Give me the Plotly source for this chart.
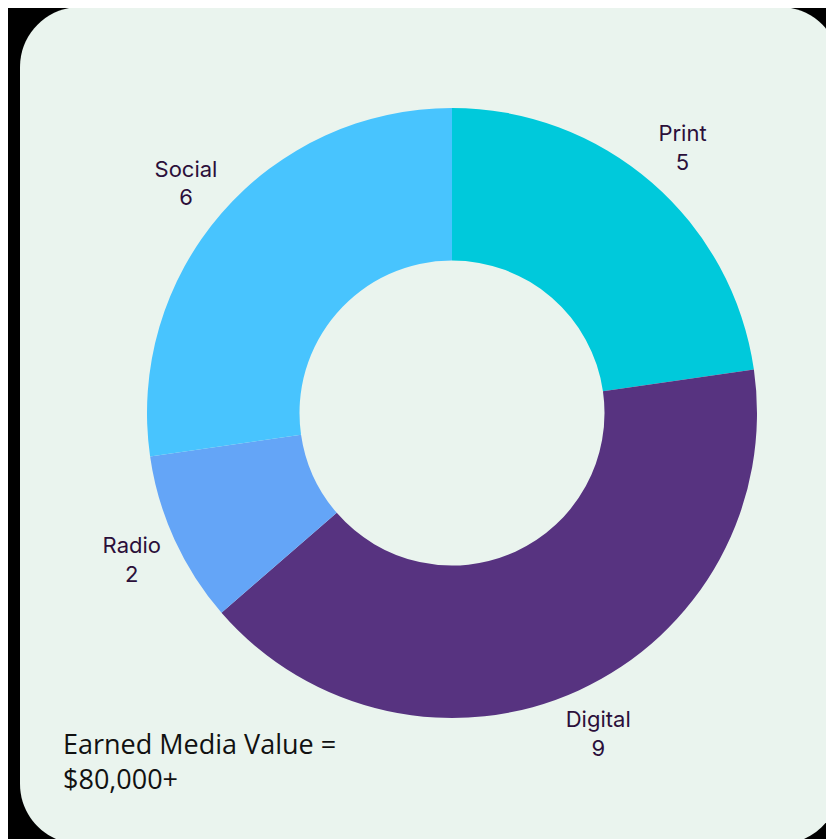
import plotly.graph_objects as go

categories = ["Print", "Digital", "Radio", "Social"]
values = [5, 9, 2, 6]
colors = ["#00C9DB", "#573380", "#64A5F7", "#48C4FE"]
footnote_lines = ["Earned Media Value =", "$80,000+"]

# page body has an 8px margin; work in page coordinates and shift
OFF = 8
W, H = 834 - OFF, 839 - OFF
CX, CY, R_OUT = 452, 413, 305
R_POLAR = 380
R_LABEL_FRAC = 352 / R_POLAR


def px(x):
    return (x - OFF) / W


def py(y):
    return 1 - (y - OFF) / H


def rounded_rect(x0, y0, x1, y1, r):
    k = 0.5523 * r
    pts = [
        f"M {px(x0 + r)},{py(y0)}",
        f"L {px(x1 - r)},{py(y0)}",
        f"C {px(x1 - r + k)},{py(y0)} {px(x1)},{py(y0 + r - k)} {px(x1)},{py(y0 + r)}",
        f"L {px(x1)},{py(y1 - r)}",
        f"C {px(x1)},{py(y1 - r + k)} {px(x1 - r + k)},{py(y1)} {px(x1 - r)},{py(y1)}",
        f"L {px(x0 + r)},{py(y1)}",
        f"C {px(x0 + r - k)},{py(y1)} {px(x0)},{py(y1 - r + k)} {px(x0)},{py(y1 - r)}",
        f"L {px(x0)},{py(y0 + r)}",
        f"C {px(x0)},{py(y0 + r - k)} {px(x0 + r - k)},{py(y0)} {px(x0 + r)},{py(y0)}",
        "Z",
    ]
    return " ".join(pts)


total = sum(values)
mid_angles = []
cum = 0
for v in values:
    mid_angles.append((cum + v / 2) / total * 360)
    cum += v

fig = go.Figure()

fig.add_trace(go.Pie(
    labels=categories,
    values=values,
    hole=0.5,
    sort=False,
    direction="clockwise",
    rotation=0,
    textinfo="none",
    hoverinfo="label+value",
    marker=dict(colors=colors, line=dict(width=0)),
    domain=dict(x=[px(CX - R_OUT), px(CX + R_OUT)], y=[py(CY + R_OUT), py(CY - R_OUT)]),
    showlegend=False,
))

# labels placed on a ring just outside the donut (polar domain shifted 3px down
# to compensate for text baseline offset)
LABEL_DY = 3
fig.add_trace(go.Scatterpolar(
    r=[R_LABEL_FRAC] * len(categories),
    theta=mid_angles,
    mode="text",
    text=[f"{c}<br>{v}" for c, v in zip(categories, values)],
    textposition="middle center",
    textfont=dict(family="Inter, Roboto, sans-serif", size=22, color="#2B0F3A"),
    hoverinfo="skip",
    showlegend=False,
    cliponaxis=False,
))

fig.update_layout(
    width=W,
    height=H,
    margin=dict(l=0, r=0, t=0, b=0),
    paper_bgcolor="#000000",
    plot_bgcolor="rgba(0,0,0,0)",
    polar=dict(
        domain=dict(x=[px(CX - R_POLAR), px(CX + R_POLAR)],
                    y=[py(CY + LABEL_DY + R_POLAR), py(CY + LABEL_DY - R_POLAR)]),
        bgcolor="rgba(0,0,0,0)",
        radialaxis=dict(visible=False, range=[0, 1]),
        angularaxis=dict(visible=False, rotation=90, direction="clockwise"),
    ),
    shapes=[dict(
        type="path",
        xref="paper",
        yref="paper",
        path=rounded_rect(20, 7, 840, 844, 60),
        fillcolor="#EAF4EE",
        line=dict(width=0),
        layer="below",
    )],
    annotations=[dict(
        x=px(61),
        y=py(761),
        xref="paper",
        yref="paper",
        xanchor="left",
        yanchor="middle",
        align="left",
        showarrow=False,
        text="<br>".join(footnote_lines),
        font=dict(family="Open Sans, sans-serif", size=27, color="#111111"),
    )],
)

fig.write_html("out.html")
